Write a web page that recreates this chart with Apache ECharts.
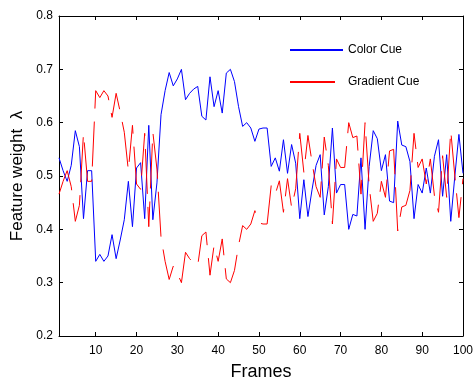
<!DOCTYPE html>
<html>
<head>
<meta charset="utf-8">
<script src="https://cdn.jsdelivr.net/npm/echarts@6/dist/echarts.min.js"></script>
<style>
  html, body { margin: 0; padding: 0; background: #fff; }
  #chart { width: 475px; height: 382px; }
</style>
</head>
<body>
<div id="chart"></div>
<script>
// 特征权重数据（逐帧读取）
var colorCue = [
  0.534, 0.51, 0.49, 0.52, 0.585, 0.555, 0.42, 0.51, 0.51, 0.34,
  0.353, 0.34, 0.35, 0.39, 0.345, 0.38, 0.418, 0.49, 0.405, 0.515,
  0.525, 0.42, 0.595, 0.418, 0.487, 0.615, 0.66, 0.694, 0.669, 0.682,
  0.70, 0.643, 0.655, 0.663, 0.668, 0.612, 0.605, 0.686, 0.63, 0.66,
  0.618, 0.693, 0.70, 0.677, 0.63, 0.593, 0.60, 0.59, 0.565, 0.588,
  0.59, 0.59, 0.518, 0.534, 0.509, 0.568, 0.505, 0.559, 0.524, 0.42,
  0.493, 0.424, 0.474, 0.52, 0.54, 0.427, 0.48, 0.59, 0.468, 0.484,
  0.484, 0.40, 0.428, 0.425, 0.534, 0.40, 0.518, 0.585, 0.57, 0.51,
  0.54, 0.453, 0.45, 0.603, 0.558, 0.555, 0.527, 0.42, 0.484, 0.468,
  0.515, 0.468, 0.537, 0.568, 0.462, 0.54, 0.415, 0.5, 0.578, 0.505
];
var gradientCue = [
  0.466, 0.49, 0.51, 0.48, 0.415, 0.445, 0.58, 0.49, 0.49, 0.66,
  0.647, 0.66, 0.65, 0.61, 0.655, 0.62, 0.582, 0.51, 0.595, 0.485,
  0.475, 0.58, 0.405, 0.582, 0.513, 0.385, 0.34, 0.306, 0.331, 0.318,
  0.30, 0.357, 0.345, 0.337, 0.332, 0.388, 0.395, 0.314, 0.37, 0.34,
  0.382, 0.307, 0.30, 0.323, 0.37, 0.407, 0.40, 0.41, 0.435, 0.412,
  0.41, 0.41, 0.482, 0.466, 0.491, 0.432, 0.495, 0.441, 0.476, 0.58,
  0.507, 0.576, 0.526, 0.48, 0.46, 0.573, 0.52, 0.41, 0.532, 0.516,
  0.516, 0.60, 0.572, 0.575, 0.466, 0.60, 0.482, 0.415, 0.43, 0.49,
  0.46, 0.547, 0.55, 0.397, 0.442, 0.445, 0.473, 0.58, 0.516, 0.532,
  0.485, 0.532, 0.463, 0.432, 0.538, 0.46, 0.585, 0.5, 0.422, 0.495
];
var xTicks = [10, 20, 30, 40, 50, 60, 70, 80, 90, 100];
var yTicks = [0.2, 0.3, 0.4, 0.5, 0.6, 0.7, 0.8];

function toPairs(arr) {
  return arr.map(function (v, i) { return [i + 1, v]; });
}

var font = 'Arial, "Liberation Sans", Helvetica, sans-serif';
var axisLine = { show: true, lineStyle: { color: '#000', width: 1 } };

var myChart = echarts.init(document.getElementById('chart'));
var option = {
  backgroundColor: '#fff',
  animation: false,
  grid: { left: 59, right: 12, top: 16, bottom: 46, outerBoundsMode: 'none' },
  legend: {
    orient: 'vertical',
    left: 284,
    top: 39,
    itemWidth: 53,
    itemHeight: 14,
    itemGap: 20,
    itemStyle: { color: 'rgba(0,0,0,0)', borderColor: 'rgba(0,0,0,0)', borderWidth: 0 },
    textStyle: { fontFamily: font, fontSize: 12, color: '#000' },
    data: ['Color Cue', 'Gradient Cue']
  },
  xAxis: [
    {
      type: 'value', min: 1, max: 100,
      name: 'Frames', nameLocation: 'middle', nameGap: 27,
      nameTextStyle: { fontFamily: font, fontSize: 18, color: '#000' },
      axisLine: axisLine,
      axisTick: { inside: true, length: 4, customValues: xTicks, lineStyle: { color: '#000' } },
      axisLabel: { customValues: xTicks, margin: 9, fontFamily: font, fontSize: 12, color: '#000' },
      splitLine: { show: false }
    },
    {
      type: 'value', min: 1, max: 100, position: 'top',
      axisLine: axisLine,
      axisTick: { inside: true, length: 4, customValues: xTicks, lineStyle: { color: '#000' } },
      axisLabel: { show: false },
      splitLine: { show: false }
    }
  ],
  yAxis: [
    {
      type: 'value', min: 0.2, max: 0.8, interval: 0.1,
      name: 'Feature weight  λ', nameLocation: 'middle', nameGap: 29,
      nameTextStyle: { fontFamily: font, fontSize: 17, color: '#000' },
      axisLine: axisLine,
      axisTick: { inside: true, length: 4, customValues: yTicks, lineStyle: { color: '#000' } },
      axisLabel: {
        customValues: yTicks, margin: 6, fontFamily: font, fontSize: 12, color: '#000',
        formatter: function (v) { return v.toFixed(1); }
      },
      splitLine: { show: false }
    },
    {
      type: 'value', min: 0.2, max: 0.8, interval: 0.1, position: 'right',
      axisLine: axisLine,
      axisTick: { inside: true, length: 4, customValues: yTicks, lineStyle: { color: '#000' } },
      axisLabel: { show: false },
      splitLine: { show: false }
    }
  ],
  series: [
    {
      name: 'Color Cue', type: 'line', symbol: 'none',
      lineStyle: { color: '#0000ff', width: 1 },
      itemStyle: { color: '#0000ff' },
      data: toPairs(colorCue)
    },
    {
      name: 'Gradient Cue', type: 'line', symbol: 'none',
      lineStyle: { color: '#ff0000', width: 1, type: [45, 13] },
      itemStyle: { color: '#ff0000' },
      data: toPairs(gradientCue)
    }
  ]
};
myChart.setOption(option);
</script>
</body>
</html>
